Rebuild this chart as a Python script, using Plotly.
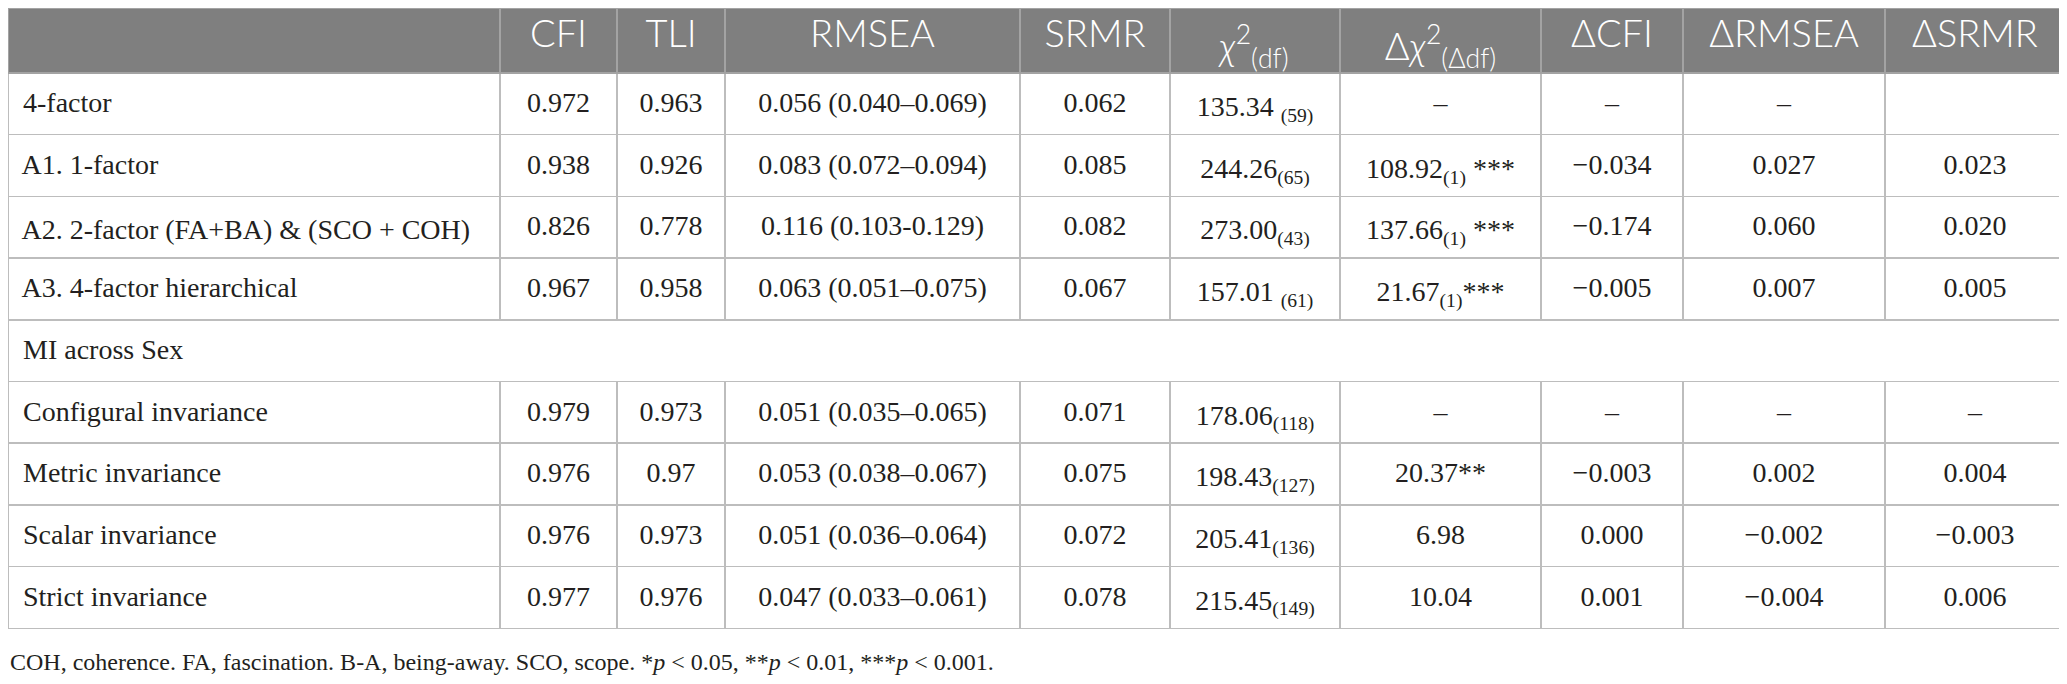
import plotly.graph_objects as go

# Model fit table data
models = ["4-factor", "A1. 1-factor", "A2. 2-factor (FA+BA) & (SCO + COH)",
          "A3. 4-factor hierarchical", "MI across Sex", "Configural invariance",
          "Metric invariance", "Scalar invariance", "Strict invariance"]
cfi = ["0.972", "0.938", "0.826", "0.967", "", "0.979", "0.976", "0.976", "0.977"]
tli = ["0.963", "0.926", "0.778", "0.958", "", "0.973", "0.97", "0.973", "0.976"]
rmsea = ["0.056 (0.040–0.069)", "0.083 (0.072–0.094)", "0.116 (0.103-0.129)",
         "0.063 (0.051–0.075)", "", "0.051 (0.035–0.065)", "0.053 (0.038–0.067)",
         "0.051 (0.036–0.064)", "0.047 (0.033–0.061)"]
srmr = ["0.062", "0.085", "0.082", "0.067", "", "0.071", "0.075", "0.072", "0.078"]
chi2 = ["135.34 ", "244.26", "273.00", "157.01 ", "", "178.06", "198.43", "205.41", "215.45"]
chi2_df = ["59", "65", "43", "61", "", "118", "127", "136", "149"]
dchi2 = ["–", "108.92", "137.66", "21.67", "", "–", "20.37", "6.98", "10.04"]
dchi2_df = ["", "1", "1", "1", "", "", "", "", ""]
dchi2_sig = ["", " ***", " ***", "***", "", "", "**", "", ""]
dcfi = ["–", "−0.034", "−0.174", "−0.005", "", "–", "−0.003", "0.000", "0.001"]
drmsea = ["–", "0.027", "0.060", "0.007", "", "–", "0.002", "−0.002", "−0.004"]
dsrmr = ["", "0.023", "0.020", "0.005", "", "–", "0.004", "−0.003", "0.006"]
section_row = 4

headers = ["", "CFI", "TLI", "RMSEA", "SRMR",
           "<i>χ</i><sup>2</sup><sub>(df)</sub>",
           "Δ<i>χ</i><sup>2</sup><sub>(Δdf)</sub>",
           "ΔCFI", "ΔRMSEA", "ΔSRMR"]
note = ("COH, coherence. FA, fascination. B-A, being-away. SCO, scope. "
        "*<i>p</i> < 0.05, **<i>p</i> < 0.01, ***<i>p</i> < 0.001.")

# the page body has an 8px margin, so the figure is drawn offset by that
OFF = 8
W, H = 2067 - OFF, 684 - OFF
HEAD_H = 73 - OFF
ROW_H = 61.7
col_w = [500 - OFF, 117, 108, 295, 150, 170, 201, 142, 202, 180]
tab_right = sum(col_w) / W
head_dy = 2     # push header text down
body_dy = 10    # push cell text down
serif = "Liberation Serif"
sans = "Lato Light, Lato, sans-serif"
grid = "#bdbdbd"
ink = "#231f20"
clear = "rgba(0,0,0,0)"
n = len(models)

labels = [" " + m for m in models]
chi_cells = [c + ("<sub>(" + d + ")</sub>" if d else "") for c, d in zip(chi2, chi2_df)]
dchi_cells = [c + ("<sub>(" + d + ")</sub>" if d else "") + s
              for c, d, s in zip(dchi2, dchi2_df, dchi2_sig)]
columns = [labels, cfi, tli, rmsea, srmr, chi_cells, dchi_cells, dcfi, drmsea, dsrmr]

fig = go.Figure()

# grid and fills only
fig.add_trace(go.Table(
    domain=dict(x=[0, tab_right], y=[0, 1]),
    columnwidth=col_w,
    header=dict(values=[""] * len(headers), fill_color="#7f7f7f", height=HEAD_H,
                line=dict(color="#a3a3a3", width=1.5)),
    cells=dict(values=[[""] * n for _ in columns], fill_color="white", height=ROW_H,
               line=dict(color=grid, width=1.5)),
))

# section row spanning the full width
sec_top = 1 - (HEAD_H + section_row * ROW_H) / H
fig.add_trace(go.Table(
    domain=dict(x=[0, tab_right], y=[sec_top - ROW_H / H - 0.01, sec_top]),
    columnwidth=[sum(col_w)],
    header=dict(values=[""], fill_color="white", height=ROW_H,
                line=dict(color=grid, width=1.5)),
    cells=dict(values=[[]], height=1, fill_color=clear, line=dict(width=0)),
))

# all text, shifted down to sit in the middle of the rows
fig.add_trace(go.Table(
    domain=dict(x=[0, tab_right], y=[0, 1 - head_dy / H]),
    columnwidth=col_w,
    header=dict(values=headers, fill_color=clear, height=HEAD_H + body_dy - head_dy,
                line=dict(color=clear, width=0), align="center",
                font=dict(family=sans, size=38, color="white")),
    cells=dict(values=columns, fill_color=clear, height=ROW_H,
               line=dict(color=clear, width=0),
               align=["left"] + ["center"] * 9,
               font=dict(family=serif, size=28, color=ink)),
))

fig.add_annotation(text=note, xref="paper", yref="paper", x=0, y=1 - (662 - OFF) / H,
                   xanchor="left", yanchor="middle", showarrow=False,
                   font=dict(family=serif, size=24, color=ink))

fig.update_layout(width=W, height=H, margin=dict(l=0, r=0, t=0, b=0),
                  paper_bgcolor="white", plot_bgcolor="white")
fig.write_html("out.html")
